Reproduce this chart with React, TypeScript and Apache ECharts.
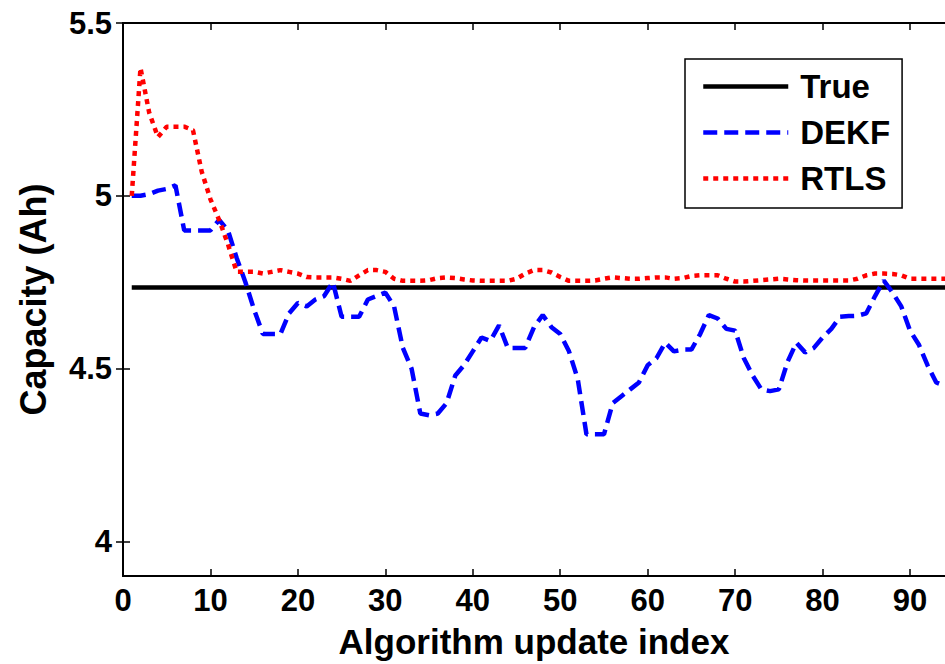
import React, { useEffect, useRef } from "react";
import * as echarts from "echarts";

const X_TICKS = [0, 10, 20, 30, 40, 50, 60, 70, 80, 90];
const Y_TICKS = [4, 4.5, 5, 5.5];

const TRUE_CAPACITY = 4.735;

// DEKF estimate, update index 1..94
const DEKF = [
  5.0, 5.0, 5.005, 5.015, 5.02, 5.03, 4.9, 4.9, 4.9, 4.9,
  4.93, 4.9, 4.82, 4.75, 4.67, 4.6, 4.6, 4.6, 4.66, 4.69,
  4.68, 4.7, 4.71, 4.75, 4.65, 4.65, 4.65, 4.7, 4.71, 4.72,
  4.68, 4.56, 4.5, 4.37, 4.365, 4.37, 4.4, 4.48, 4.51, 4.55,
  4.59, 4.58, 4.625, 4.56, 4.56, 4.56, 4.62, 4.655, 4.62, 4.6,
  4.55, 4.47, 4.31, 4.31, 4.31, 4.4, 4.42, 4.44, 4.46, 4.51,
  4.53, 4.575, 4.55, 4.555, 4.555, 4.6, 4.655, 4.645, 4.615, 4.61,
  4.53, 4.48, 4.44, 4.435, 4.44, 4.52, 4.575, 4.547, 4.56, 4.59,
  4.615, 4.65, 4.652, 4.653, 4.66, 4.71, 4.755, 4.72, 4.68, 4.61,
  4.57, 4.51, 4.46, 4.45,
];

// RTLS estimate, update index 1..94
const RTLS = [
  5.0, 5.37, 5.24, 5.17, 5.2, 5.2, 5.2, 5.19, 5.07, 4.99,
  4.93, 4.86, 4.78, 4.78, 4.78, 4.775, 4.78, 4.785, 4.78, 4.775,
  4.765, 4.764, 4.764, 4.764, 4.76, 4.754, 4.77, 4.785, 4.785, 4.78,
  4.76, 4.754, 4.754, 4.754, 4.756, 4.762, 4.764, 4.762, 4.758, 4.755,
  4.754, 4.754, 4.754, 4.754, 4.76, 4.775, 4.785, 4.785, 4.778, 4.765,
  4.754, 4.754, 4.754, 4.755, 4.76, 4.764, 4.762, 4.76, 4.76, 4.762,
  4.764, 4.764, 4.76, 4.762, 4.768, 4.77, 4.77, 4.77, 4.76, 4.752,
  4.752, 4.754, 4.756, 4.758, 4.76, 4.758, 4.756, 4.755, 4.755, 4.755,
  4.755, 4.755, 4.755, 4.76, 4.77, 4.775, 4.775, 4.774, 4.77, 4.76,
  4.76, 4.76, 4.76, 4.76,
];

const FONT = "'Liberation Sans', Arial, sans-serif";

export default function App() {
  const ref = useRef<HTMLDivElement>(null);

  useEffect(() => {
    if (!ref.current) return;
    const chart = echarts.init(ref.current, undefined, { renderer: "svg" });

    const toPairs = (arr: number[]) => arr.map((v, i) => [i + 1, v]);
    const trueData = DEKF.map((_, i) => [i + 1, TRUE_CAPACITY]);

    const tickStyle = { show: true, inside: true, length: 7, lineStyle: { color: "#000", width: 1.5 } };
    const axisLineStyle = { show: true, lineStyle: { color: "#000", width: 2 } };

    chart.setOption({
      animation: false,
      backgroundColor: "#fff",
      textStyle: { fontFamily: FONT },
      grid: { left: 123, right: -3, top: 23, bottom: 87, containLabel: false },
      legend: {
        data: ["True", "DEKF", "RTLS"],
        orient: "vertical",
        left: 685,
        top: 59,
        padding: [11, 12, 13, 16],
        itemWidth: 85,
        itemHeight: 20,
        itemGap: 13,
        borderColor: "#000",
        borderWidth: 1.5,
        backgroundColor: "#fff",
        itemStyle: { opacity: 0, borderWidth: 0 },
        lineStyle: { width: 4.5 },
        textStyle: { fontSize: 33, fontWeight: "bold", color: "#000", fontFamily: FONT, padding: [0, 0, 0, 7] },
      },
      xAxis: [
        {
          type: "value",
          min: 0,
          max: 94,
          position: "bottom",
          name: "Algorithm update index",
          nameLocation: "middle",
          nameGap: 48,
          nameTextStyle: { fontSize: 35, fontWeight: "bold", color: "#000", fontFamily: FONT },
          axisLine: axisLineStyle,
          axisTick: { ...tickStyle, customValues: X_TICKS },
          axisLabel: { customValues: X_TICKS, fontSize: 31, fontWeight: "bold", color: "#000", margin: 9, fontFamily: FONT },
          splitLine: { show: false },
        },
        {
          type: "value",
          min: 0,
          max: 94,
          position: "top",
          axisLine: axisLineStyle,
          axisTick: { ...tickStyle, customValues: X_TICKS },
          axisLabel: { show: false },
          splitLine: { show: false },
        },
      ],
      yAxis: [
        {
          type: "value",
          min: 3.9,
          max: 5.5,
          position: "left",
          name: "Capacity (Ah)",
          nameLocation: "middle",
          nameRotate: 90,
          nameGap: 72,
          nameTextStyle: { fontSize: 36, fontWeight: "bold", color: "#000", fontFamily: FONT },
          axisLine: axisLineStyle,
          axisTick: { ...tickStyle, customValues: Y_TICKS },
          axisLabel: { customValues: Y_TICKS, fontSize: 31, fontWeight: "bold", color: "#000", margin: 11, fontFamily: FONT },
          splitLine: { show: false },
        },
        {
          type: "value",
          min: 3.9,
          max: 5.5,
          position: "right",
          axisLine: axisLineStyle,
          axisTick: { ...tickStyle, customValues: Y_TICKS },
          axisLabel: { show: false },
          splitLine: { show: false },
        },
      ],
      series: [
        {
          name: "True",
          type: "line",
          data: trueData,
          symbol: "none",
          lineStyle: { color: "#000", width: 4.5, type: "solid" },
          itemStyle: { color: "#000" },
        },
        {
          name: "DEKF",
          type: "line",
          data: toPairs(DEKF),
          symbol: "none",
          lineStyle: { color: "#0000ff", width: 4.5, type: [14, 7] },
          itemStyle: { color: "#0000ff" },
        },
        {
          name: "RTLS",
          type: "line",
          data: toPairs(RTLS),
          symbol: "none",
          lineStyle: { color: "#ff0000", width: 4.5, type: [5, 5] },
          itemStyle: { color: "#ff0000" },
        },
      ],
    });

    return () => chart.dispose();
  }, []);

  return (
    <div
      ref={ref}
      style={{ position: "fixed", left: 0, top: 0, width: 945, height: 664, background: "#fff" }}
    />
  );
}
